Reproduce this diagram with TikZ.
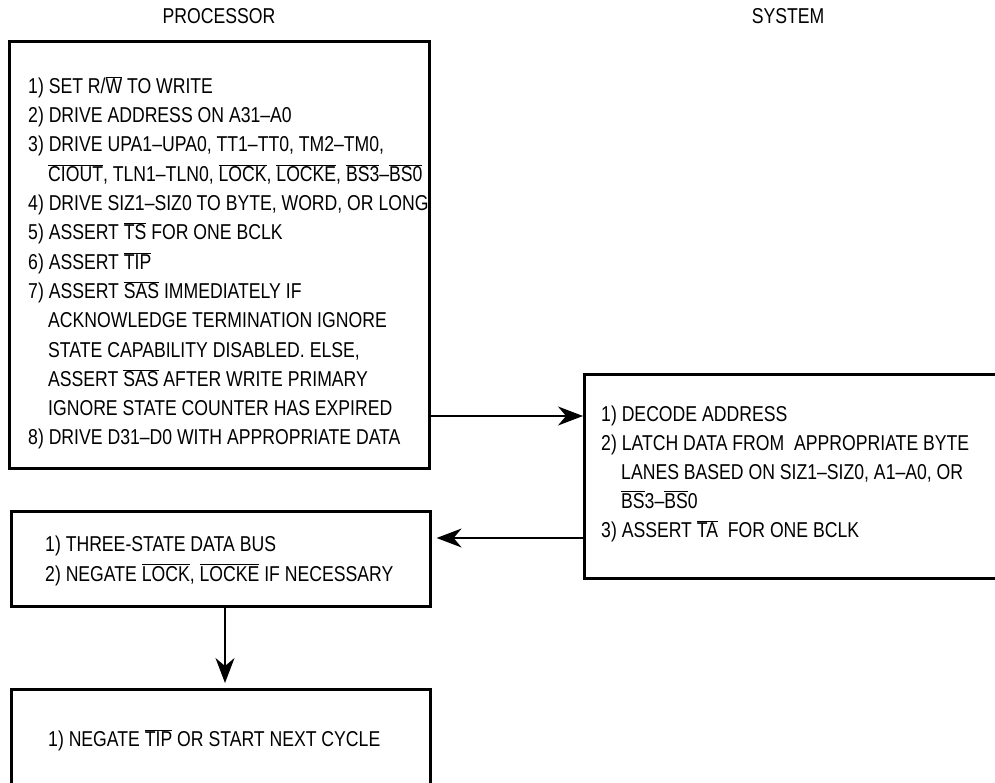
\documentclass[tikz,border=0pt]{standalone}
\usepackage{fontspec}
\setmainfont{Liberation Sans}[FakeStretch=0.82]
\usetikzlibrary{arrows.meta}
\newcommand\ol[1]{$\overline{\hbox{#1}}$}
\newcommand\ind{\hspace*{20pt}}
\begin{document}
\begin{tikzpicture}[x=1pt,y=-1pt,
  box/.style={draw,line width=2.6pt,inner sep=0pt,anchor=north west},
  txt/.style={inner sep=0pt,anchor=base west,font=\fontsize{21.5}{29.3}\selectfont},
  ttl/.style={inner sep=0pt,anchor=base,font=\fontsize{21.5}{29.3}\selectfont},
  arr/.style={line width=1.3pt,-{Stealth[length=25pt,width=19pt,inset=8pt]}}]
\useasboundingbox (0,0) rectangle (995,783);
\clip (0,0) rectangle (995,783);
% titles
\node[ttl] (tp) at (219,23.5) {PROCESSOR};
\node[ttl] (ts) at (788,23.5) {SYSTEM};
% boxes
\node[box,minimum width=420pt,minimum height=427pt] (B1) at (8,40) {};
\node[box,minimum width=420pt,minimum height=204pt] (S) at (583,373) {};
\node[box,minimum width=419pt,minimum height=95pt] (B2) at (10,510) {};
\node[box,minimum width=419pt,minimum height=150pt] (B3) at (10,688) {};
% processor text
\foreach \t [count=\i] in {
  {1) SET R/\ol{W} TO WRITE},
  {2) DRIVE ADDRESS ON A31--A0},
  {3) DRIVE UPA1--UPA0, TT1--TT0, TM2--TM0,},
  {\ind\ol{CIOUT}, TLN1--TLN0, \ol{LOCK}, \ol{LOCKE}, \ol{BS3}--\ol{BS0}},
  {4) DRIVE SIZ1--SIZ0 TO BYTE, WORD, OR LONG},
  {5) ASSERT \ol{TS} FOR ONE BCLK},
  {6) ASSERT \ol{TIP}},
  {7) ASSERT \ol{SAS} IMMEDIATELY IF},
  {\ind ACKNOWLEDGE TERMINATION IGNORE},
  {\ind STATE CAPABILITY DISABLED. ELSE,},
  {\ind ASSERT \ol{SAS} AFTER WRITE PRIMARY},
  {\ind IGNORE STATE COUNTER HAS EXPIRED},
  {8) DRIVE D31--D0 WITH APPROPRIATE DATA}}
  \node[txt] (p\i) at (28,{93.3+29.3*(\i-1)}) {\t};
% system text
\foreach \t [count=\i] in {
  {1) DECODE ADDRESS},
  {2) LATCH DATA FROM\ \ APPROPRIATE BYTE},
  {\ind LANES BASED ON SIZ1--SIZ0, A1--A0, OR},
  {\ind\ol{BS}3--\ol{BS}0},
  {3) ASSERT \ol{TA}\ \ FOR ONE BCLK}}
  \node[txt] (s\i) at (601,{421+29*(\i-1)}) {\t};
% box 2 text
\node[txt] (q1) at (45,551.7) {1) THREE-STATE DATA BUS};
\node[txt] (q2) at (45,581) {2) NEGATE \ol{LOCK}, \ol{LOCKE} IF NECESSARY};
% box 3 text
\node[txt] (r1) at (48,746.7) {1) NEGATE \ol{TIP} OR START NEXT CYCLE};
% connectors
\coordinate (y1) at (0,416);
\coordinate (y2) at (0,538);
\coordinate (x3) at (225,0);
\draw[arr] (y1 -| B1.east) -- (y1 -| S.west);
\draw[arr,shorten >=5pt] (y2 -| S.west) -- (y2 -| B2.east);
\draw[arr,shorten >=5pt] (x3 |- B2.south) -- (x3 |- B3.north);
\end{tikzpicture}
\end{document}
